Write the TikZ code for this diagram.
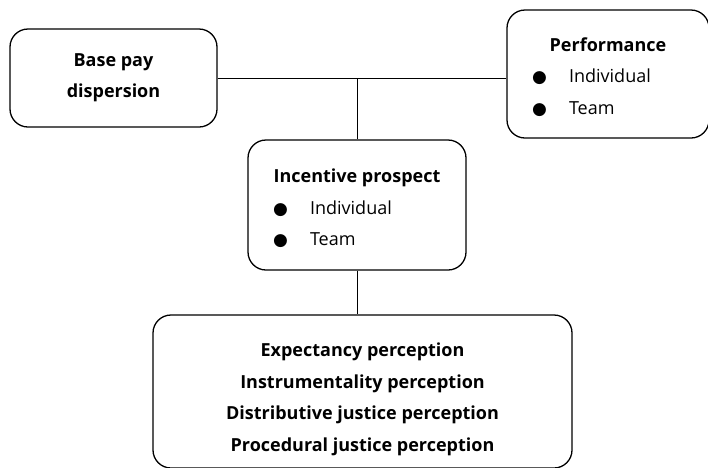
\documentclass[tikz,border=0pt]{standalone}
\usepackage{fontspec}
\setmainfont{Open Sans}
\newfontfamily\dotfont{DejaVu Sans}
\usetikzlibrary{positioning}

\tikzset{
  box/.style={draw, line width=1.3pt, rounded corners=18pt, align=center, inner sep=0pt},
  link/.style={line width=1pt},
}
% bullet item of a list
\newcommand{\itm}[1]{\makebox[37pt][l]{\dotfont\fontsize{17}{17}\selectfont ●}#1}
% extra room above the first row (moves the text down)
\newcommand{\topgap}[1]{\rule{0pt}{\dimexpr22pt+#1\relax}}

\begin{document}
\begin{tikzpicture}[x=1pt, y=-1pt, font=\fontsize{18}{31.5}\selectfont]
    \useasboundingbox (0,0) rectangle (708,467);

    % First, the boxes
    \node[box, minimum width=207pt, minimum height=98pt] (pay) at (113.5,78)
        {\begin{tabular}{@{}c@{}}
            \textbf{Base pay}\\
            \textbf{dispersion}\rule[-14.5pt]{0pt}{0pt}
         \end{tabular}};
    \node[box, minimum width=202pt, minimum height=128pt] (perf) at (608,74)
        {\begin{tabular}{@{}p{152pt}@{}}
            \multicolumn{1}{@{}c@{}}{\topgap{5pt}\textbf{Performance}}\\
            \itm{Individual}\\
            \itm{Team}
         \end{tabular}};
    \node[box, minimum width=218pt, minimum height=130pt] (incent) at (357,205)
        {\begin{tabular}{@{}p{168pt}@{}}
            \multicolumn{1}{@{}c@{}}{\topgap{6pt}\textbf{Incentive prospect}}\\
            \itm{Individual}\\
            \itm{Team}
         \end{tabular}};
    \node[box, minimum width=419pt, minimum height=153pt] (percep) at (362.5,391.5)
        {\begin{tabular}{@{}c@{}}
            \topgap{12pt}\textbf{Expectancy perception}\\
            \textbf{Instrumentality perception}\\
            \textbf{Distributive justice perception}\\
            \textbf{Procedural justice perception}
         \end{tabular}};

    % Now the lines
    \draw[link] (pay.east) -- (pay.east -| perf.west);
    \draw[link] (incent.north) -- (incent.north |- pay.east);
    \draw[link] (incent.south) -- (incent.south |- percep.north);
\end{tikzpicture}
\end{document}
